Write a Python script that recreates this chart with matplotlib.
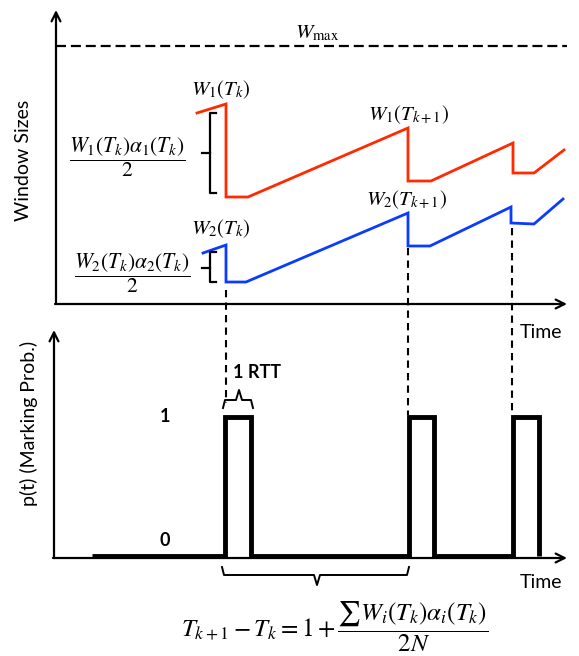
import matplotlib
matplotlib.use("Agg")
import matplotlib.pyplot as plt

plt.rcParams['font.family'] = ['Lato', 'DejaVu Sans']
plt.rcParams['mathtext.fontset'] = 'stix'

# window traces (time, window) in picture units
red_t = [197, 226, 226, 248, 408, 408, 431, 513, 513, 534, 564]
red_w = [113, 104, 197, 197, 128, 181, 181, 143, 173, 173, 150]
blue_t = [203, 226, 226, 246, 408, 408, 430, 511, 511, 534, 563]
blue_w = [253, 245, 282, 282, 213, 246, 246, 207, 223, 224, 199]

# marking probability p(t)
p_t = [92, 225, 225, 251, 251, 409, 409, 434, 434, 513, 513, 539, 539]
p_val = [0, 0, 1, 1, 0, 0, 1, 1, 0, 0, 1, 1, 0]
P_BASE = 556
P_HEIGHT = 139

# congestion instants T_k, T_k+1, ... and where the guide dashes run
mark_t = [226, 408, 512]
dash_top = [290, 248, 228]
dash_bot = [403, 415, 415]

W_MAX = 46

fig = plt.figure(figsize=(5.79, 6.56), dpi=100)
ax = fig.add_axes([0, 0, 1, 1])
ax.set_xlim(0, 579)
ax.set_ylim(656, 0)
ax.axis('off')


def arrow(x0, y0, x1, y1):
    ax.annotate('', xy=(x1, y1), xytext=(x0, y0),
                arrowprops=dict(arrowstyle='->', lw=1.6, color='black',
                                mutation_scale=16, shrinkA=0, shrinkB=0))


# top panel axes
arrow(56, 304, 56, 10)
arrow(55, 304, 567, 304)
# bottom panel axes
arrow(54, 558, 54, 330)
arrow(53, 558, 567, 558)

ax.plot([56, 567], [W_MAX, W_MAX], color='black', lw=1.6, ls=(0, (4.5, 2.2)))

ax.plot(red_t, red_w, color='#ff2a00', lw=2.0, solid_joinstyle='miter')
ax.plot(blue_t, blue_w, color='#0a3cff', lw=2.0, solid_joinstyle='miter')

p_y = [P_BASE - v * P_HEIGHT for v in p_val]
ax.plot(p_t, p_y, color='black', lw=3.5, solid_joinstyle='miter', solid_capstyle='butt')

for x, y0, y1 in zip(mark_t, dash_top, dash_bot):
    ax.plot([x, x], [y0, y1], color='black', lw=1.5, ls=(0, (3.5, 2.5)))

# brackets next to the drops
for top, bot, mid in [(113, 193, 153), (252, 282, 268)]:
    ax.plot([216, 210, 210, 216], [top, top, bot, bot], color='black', lw=1.6)
    ax.plot([210, 202], [mid, mid], color='black', lw=1.6)

# 1 RTT brace
ax.plot([223, 225, 236, 239, 242, 251, 253], [408, 400, 400, 390, 400, 400, 408],
        color='black', lw=1.4, solid_joinstyle='round')
# period brace
ax.plot([222, 224, 314, 317, 320, 407, 409], [567, 575, 575, 585, 575, 575, 567],
        color='black', lw=1.4, solid_joinstyle='round')

# text
ax.text(24, 160, 'Window Sizes', rotation=90, ha='center', va='center', fontsize=14)
ax.text(29, 423, 'p(t) (Marking Prob.)', rotation=90, ha='center', va='center', fontsize=14)
ax.text(520, 333, 'Time', ha='left', va='center', fontsize=14)
ax.text(520, 582, 'Time', ha='left', va='center', fontsize=14)
ax.text(257, 373, '1 RTT', ha='center', va='center', fontsize=13, fontweight='bold')
ax.text(165, 417, '1', ha='center', va='center', fontsize=13, fontweight='bold')
ax.text(165, 541, '0', ha='center', va='center', fontsize=13, fontweight='bold')

ax.text(317, 33, r'$W_{\rm max}$', ha='center', va='center', fontsize=15)
ax.text(221, 90, r'$W_1(T_k)$', ha='center', va='center', fontsize=15)
ax.text(408, 115, r'$W_1(T_{k+1})$', ha='center', va='center', fontsize=15)
ax.text(221, 229, r'$W_2(T_k)$', ha='center', va='center', fontsize=15)
ax.text(406, 200, r'$W_2(T_{k+1})$', ha='center', va='center', fontsize=15)
ax.text(127, 157, r'$\dfrac{W_1(T_k)\alpha_1(T_k)}{2}$', ha='center', va='center', fontsize=15.5)
ax.text(132, 273, r'$\dfrac{W_2(T_k)\alpha_2(T_k)}{2}$', ha='center', va='center', fontsize=15.5)
ax.text(335, 627, r'$T_{k+1}-T_k=1+\dfrac{\sum W_i(T_k)\alpha_i(T_k)}{2N}$',
        ha='center', va='center', fontsize=18)

fig.savefig('out.png', dpi=100)
